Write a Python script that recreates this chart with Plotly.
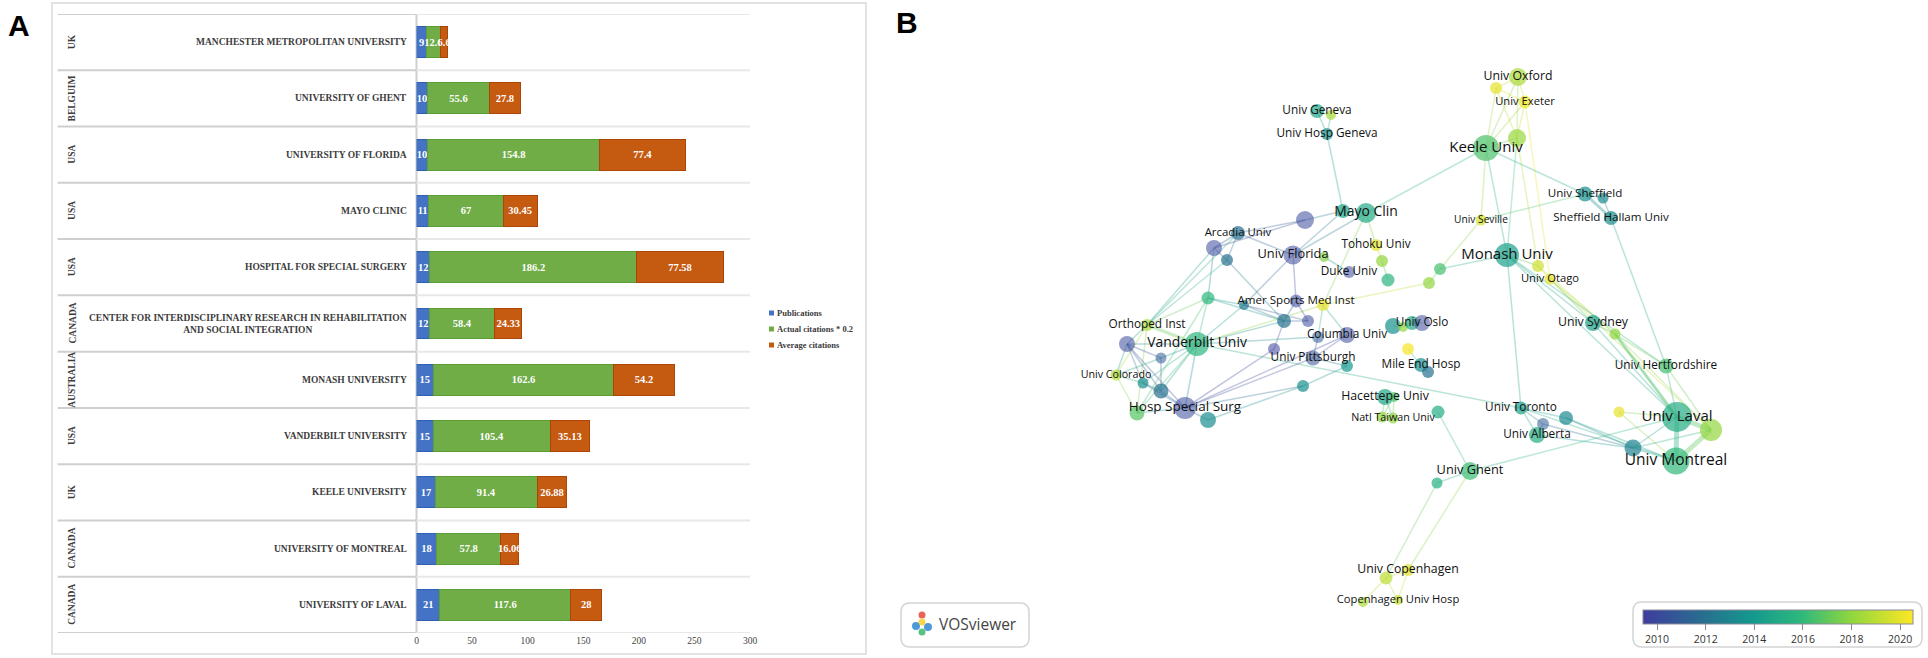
import plotly.graph_objects as go
from plotly.colors import sample_colorscale

W = 1928
H = 658

# ---- panel A data ----
universities = ['MANCHESTER METROPOLITAN UNIVERSITY', 'UNIVERSITY OF GHENT', 'UNIVERSITY OF FLORIDA',
                'MAYO CLINIC', 'HOSPITAL FOR SPECIAL SURGERY',
                'CENTER FOR INTERDISCIPLINARY RESEARCH IN REHABILITATION<br>AND SOCIAL INTEGRATION',
                'MONASH UNIVERSITY', 'VANDERBILT UNIVERSITY', 'KEELE UNIVERSITY',
                'UNIVERSITY OF MONTREAL', 'UNIVERSITY OF LAVAL']
countries = ['UK', 'BELGUIM', 'USA', 'USA', 'USA', 'CANADA', 'AUSTRALIA', 'USA', 'UK', 'CANADA', 'CANADA']
publications = [9, 10, 10, 11, 12, 12, 15, 15, 17, 18, 21]
actual_citations = [12.6, 55.6, 154.8, 67, 186.2, 58.4, 162.6, 105.4, 91.4, 57.8, 117.6]
average_citations = [6.6, 27.8, 77.4, 30.45, 77.58, 24.33, 54.2, 35.13, 26.88, 16.06, 28]
bar_ticks = [0, 50, 100, 150, 200, 250, 300]

# ---- panel B data (map position, bubble diameter, average year) ----
node_id = ['oxford', 'ox2', 'exeter', 'ox3', 'keele', 'sheffield', 'sh2', 'hallam', 'seville', 'monash',
           'mo2', 'otago', 'g1', 'g2', 'sydney', 'sy2', 'hert', 'y1', 'laval', 'la2',
           'montreal', 'mo3', 'toronto', 'to2', 'to3', 'alberta', 'ghent', 'gh2', 'to4', 'copen',
           'co2', 'cohosp', 'co3', 'geneva', 'ge2', 'hgeneva', 'mayo', 'ma2', 'p1', 'arcadia',
           'a2', 'a3', 'florida', 'fl2', 'tohoku', 'th2', 'duke', 'th3', 'c1', 'as1',
           'amer', 'as3', 'b1', 'b2', 'b3', 'columbia', 'b4', 'pitt', 'b5', 'b6',
           'os1', 'os2', 'os3', 'oslo', 'y2', 'mile', 'mi2', 'hacet', 'ha2', 'ha3',
           'taiwan', 'ortho', 'v1', 'vand', 'v2', 'colorado', 'v3', 'v4', 'hss', 'v5', 'v6']
node_label = ['Univ Oxford', '', 'Univ Exeter', '', 'Keele Univ', 'Univ Sheffield', '', 'Sheffield Hallam Univ', 'Univ Seville', 'Monash Univ',
              '', 'Univ Otago', '', '', 'Univ Sydney', '', 'Univ Hertfordshire', '', 'Univ Laval', '',
              'Univ Montreal', '', 'Univ Toronto', '', '', 'Univ Alberta', 'Univ Ghent', '', '', 'Univ Copenhagen',
              '', 'Copenhagen Univ Hosp', '', 'Univ Geneva', '', 'Univ Hosp Geneva', 'Mayo Clin', '', '', 'Arcadia Univ',
              '', '', 'Univ Florida', '', 'Tohoku Univ', '', 'Duke Univ', '', '', '',
              'Amer Sports Med Inst', '', '', '', '', 'Columbia Univ', '', 'Univ Pittsburgh', '', '',
              '', '', '', 'Univ Oslo', '', 'Mile End Hosp', '', 'Hacettepe Univ', '', '',
              'Natl Taiwan Univ', 'Orthoped Inst', '', 'Vanderbilt Univ', '', 'Univ Colorado', '', '', 'Hosp Special Surg', '', '']
label_size = [12.3, 0, 11.2, 0, 15, 11.6, 0, 11.6, 10.2, 15,
              0, 11.2, 0, 0, 12.3, 0, 11.8, 0, 15, 0,
              15.5, 0, 11.8, 0, 0, 11.8, 12.8, 0, 0, 12.3,
              0, 11.2, 0, 11.8, 0, 11.8, 13.9, 0, 0, 11.4,
              0, 0, 12.8, 0, 11.8, 0, 11.8, 0, 0, 0,
              11.6, 0, 0, 0, 0, 11.8, 0, 11.8, 0, 0,
              0, 0, 0, 11.8, 0, 11.8, 0, 12.3, 0, 0,
              10.7, 11.8, 0, 13.9, 0, 10.7, 0, 0, 13.5, 0, 0]
node_x = [1518, 1496, 1525, 1517, 1486, 1585, 1603, 1611, 1481, 1507,
          1538, 1550, 1440, 1429, 1593, 1615, 1666, 1619, 1677, 1711,
          1676, 1633, 1521, 1566, 1543, 1537, 1470, 1437, 1438, 1408,
          1386, 1398, 1363, 1317, 1331, 1327, 1366, 1343, 1305, 1238,
          1214, 1227, 1293, 1324, 1376, 1382, 1349, 1388, 1208, 1244,
          1296, 1323, 1284, 1308, 1318, 1347, 1274, 1313, 1347, 1303,
          1393, 1403, 1412, 1422, 1408, 1421, 1428, 1385, 1394, 1382,
          1393, 1147, 1127, 1197, 1161, 1116, 1143, 1161, 1185, 1137, 1208]
node_y = [77, 88, 102, 138, 148, 194, 198, 218, 220, 255,
          266, 279, 269, 283, 323, 334, 366, 412, 417, 430,
          461, 448, 408, 418, 424, 435, 471, 483, 412, 570,
          578, 600, 602, 111, 115, 134, 213, 211, 220, 233,
          248, 260, 255, 257, 245, 261, 272, 280, 298, 305,
          301, 305, 321, 321, 337, 335, 349, 358, 366, 386,
          326, 327, 323, 323, 349, 365, 372, 397, 397, 417,
          418, 325, 344, 344, 358, 375, 383, 391, 408, 413, 420]
node_size = [18, 12, 13, 18, 26, 15, 11, 14, 11, 24,
             12, 11, 12, 12, 16, 11, 15, 11, 30, 22,
             27, 17, 13, 14, 12, 16, 18, 11, 13, 12,
             13, 10, 10, 14, 10, 12, 20, 14, 18, 14,
             16, 12, 19, 10, 12, 12, 12, 13, 13, 10,
             13, 12, 14, 12, 12, 16, 12, 15, 12, 12,
             16, 10, 14, 16, 12, 14, 12, 16, 10, 11,
             11, 12, 16, 24, 11, 11, 11, 15, 22, 15, 16]
node_year = [18.6, 20, 20.2, 18.2, 16.6, 13.6, 13.2, 13.4, 19.6, 14.4,
             19.4, 20, 16.4, 18, 14.4, 18, 16.4, 20, 15.2, 18,
             16, 12.8, 14.4, 13.2, 11, 15.2, 16.2, 15.4, 15.2, 19.8,
             19, 19.2, 18.6, 14.8, 18.6, 13.4, 15, 14.6, 10, 12,
             10, 12, 10, 17.8, 20, 18, 10, 15.6, 15.8, 12.4,
             10, 20, 12, 10, 11, 10, 9.6, 10.4, 14, 13.6,
             13.6, 18, 15, 10, 20.4, 13.4, 12, 14.8, 16.6, 18,
             18, 18.6, 10, 15.8, 11, 18.8, 13.4, 12, 10, 16.8, 13.4]
node_year = [2000 + y for y in node_year]

edges = [('oxford', 'ox2'), ('oxford', 'exeter'), ('ox2', 'exeter'), ('oxford', 'keele'), ('oxford', 'ox3'),
         ('ox2', 'keele'), ('exeter', 'keele'), ('ox2', 'ox3'), ('exeter', 'ox3'), ('keele', 'ox3'),
         ('exeter', 'otago'), ('ox3', 'monash'), ('ox3', 'mo2'), ('keele', 'monash'), ('keele', 'seville'),
         ('keele', 'mayo'), ('keele', 'sheffield'), ('seville', 'sheffield'), ('seville', 'g1'), ('g1', 'monash'),
         ('g2', 'g1'), ('monash', 'mo2'), ('mo2', 'otago'), ('monash', 'sydney'), ('otago', 'sydney'),
         ('otago', 'sy2'), ('mo2', 'sy2'), ('sheffield', 'sh2'), ('sh2', 'hallam'), ('hallam', 'hert'),
         ('monash', 'toronto'), ('monash', 'hert'), ('monash', 'laval'), ('sydney', 'laval'), ('sydney', 'sy2'),
         ('sy2', 'hert'), ('sy2', 'laval'), ('sy2', 'la2'), ('otago', 'la2'), ('hert', 'laval'),
         ('hert', 'la2'), ('y1', 'laval'), ('y1', 'montreal'), ('mo3', 'laval'), ('mo3', 'la2'),
         ('mo3', 'montreal'), ('to2', 'mo3'), ('to2', 'montreal'), ('to3', 'mo3'), ('toronto', 'to2'),
         ('toronto', 'to3'), ('toronto', 'alberta'), ('to3', 'alberta'), ('alberta', 'mo3'), ('toronto', 'montreal'),
         ('ghent', 'laval'), ('ghent', 'to4'), ('ghent', 'gh2'), ('ghent', 'copen'), ('gh2', 'co2'),
         ('copen', 'co2'), ('copen', 'cohosp'), ('co2', 'cohosp'), ('co2', 'co3'), ('vand', 'toronto'),
         ('hacet', 'ha2'), ('hacet', 'ha3'), ('hacet', 'taiwan'), ('ha2', 'ha3'), ('ha2', 'taiwan'),
         ('y2', 'mile'), ('mile', 'mi2'), ('os1', 'os2'), ('os2', 'os3'), ('os3', 'oslo'),
         ('geneva', 'ge2'), ('geneva', 'hgeneva'), ('ge2', 'hgeneva'), ('hgeneva', 'ma2'), ('mayo', 'ma2'),
         ('ma2', 'p1'), ('p1', 'arcadia'), ('p1', 'a2'), ('mayo', 'florida'), ('ma2', 'florida'),
         ('mayo', 'tohoku'), ('mayo', 'as3'), ('tohoku', 'th2'), ('th2', 'th3'), ('fl2', 'duke'),
         ('florida', 'as1'), ('florida', 'amer'), ('arcadia', 'a2'), ('arcadia', 'a3'), ('a2', 'a3'),
         ('arcadia', 'florida'), ('a3', 'b1'), ('a2', 'c1'), ('a2', 'ortho'), ('arcadia', 'ortho'),
         ('a3', 'ortho'), ('c1', 'as1'), ('c1', 'ortho'), ('c1', 'vand'), ('c1', 'b1'),
         ('as1', 'b1'), ('as1', 'b2'), ('amer', 'b1'), ('b1', 'b2'), ('b1', 'b4'),
         ('b4', 'hss'), ('as3', 'b3'), ('as3', 'columbia'), ('vand', 'as3'), ('as3', 'g2'),
         ('b3', 'pitt'), ('columbia', 'pitt'), ('columbia', 'hss'), ('pitt', 'b5'), ('b5', 'b6'),
         ('b6', 'hss'), ('v6', 'b6'), ('as1', 'vand'), ('b1', 'vand'), ('amer', 'b2'),
         ('ortho', 'v1'), ('ortho', 'colorado'), ('ortho', 'v5'), ('v1', 'vand'),
         ('v1', 'v2'), ('v1', 'colorado'), ('v1', 'hss'), ('v1', 'v4'), ('v1', 'v3'),
         ('colorado', 'v2'), ('colorado', 'v5'), ('colorado', 'v3'), ('v2', 'vand'), ('v2', 'v4'),
         ('v3', 'v4'), ('v3', 'vand'), ('v4', 'hss'), ('v4', 'vand'), ('vand', 'hss'),
         ('vand', 'v5'), ('v5', 'hss'), ('hss', 'v6'), ('hss', 'v3'), ('c1', 'v5'),
         ('vand', 'b3'), ('hss', 'pitt')]
medium_edges = [('sheffield', 'hallam'), ('ortho', 'vand'), ('sy2', 'laval')]
heavy_edges = [('laval', 'montreal'), ('laval', 'la2'), ('montreal', 'la2')]

year_ticks = [2010, 2012, 2014, 2016, 2018, 2020]
year_min = 2009.42
year_max = 2020.53
year_colors = [[0, '#3f3c9e'], [0.23, '#27708f'], [0.41, '#149a8e'], [0.59, '#2fb97c'], [0.77, '#90d63f'], [1, '#fde725']]


def px(x):
    return x / W


def py(y):
    return 1 - y / H


def year_color(year):
    return sample_colorscale(year_colors, (year - year_min) / (year_max - year_min))[0]


fig = go.Figure()

# ---- panel A bars ----
series = [('Publications', publications, '#4472c4', '#2f5fb3'),
          ('Actual citations * 0.2', actual_citations, '#70ad47', '#5b9e35'),
          ('Average citations', average_citations, '#c55a11', '#ad4508')]
for name, values, color, edge in series:
    fig.add_trace(go.Bar(
        y=universities, x=values, name=name, orientation='h',
        marker=dict(color=color, line=dict(color=edge, width=1)),
        text=[str(v) for v in values], textposition='inside', insidetextanchor='middle',
        textangle=0, constraintext='none', cliponaxis=False,
        textfont=dict(family='Liberation Serif', size=10.5, color='white', weight='bold'),
        showlegend=False, hoverinfo='x+y'))

# ---- panel B links and nodes ----
pos = {n: i for i, n in enumerate(node_id)}
for pairs, width, alpha in [(edges, 1.5, 0.3), (medium_edges, 3, 0.34), (heavy_edges, 5, 0.36)]:
    for a, b in pairs:
        i, j = pos[a], pos[b]
        fig.add_trace(go.Scatter(
            x=[node_x[i], node_x[j]], y=[node_y[i], node_y[j]], mode='lines', xaxis='x2', yaxis='y2',
            line=dict(color=year_color((node_year[i] + node_year[j]) / 2), width=width),
            opacity=alpha, showlegend=False, hoverinfo='skip'))

# the older, bluer nodes look paler in the reference
node_alpha = [0.55 if y < 2011.5 else 0.7 for y in node_year]

fig.add_trace(go.Scatter(
    x=node_x, y=node_y, mode='markers+text', xaxis='x2', yaxis='y2', text=node_label,
    textposition='middle center',
    textfont=dict(family='Open Sans', size=[s if s else 10 for s in label_size], color='#111111'),
    marker=dict(size=node_size, color=node_year, colorscale=year_colors, cmin=year_min, cmax=year_max,
                opacity=node_alpha, line=dict(width=0),
                colorbar=dict(orientation='h', x=px(1778), xanchor='center', y=py(610), yanchor='top',
                              len=270, lenmode='pixels', thickness=14, thicknessmode='pixels',
                              tickvals=year_ticks, ticks='outside', ticklen=6, tickcolor='#888888',
                              tickfont=dict(family='Open Sans', size=10.5, color='#333333'),
                              outlinecolor='#8a8a9a', outlinewidth=1, xpad=0, ypad=0)),
    showlegend=False, hovertext=node_id, hoverinfo='text'))

# frame, row lines and table labels of panel A
shapes = [dict(type='rect', xref='paper', yref='paper', x0=px(52), x1=px(866), y0=py(654), y1=py(3),
               line=dict(color='#e2e2e2', width=2), layer='below'),
          dict(type='line', xref='paper', yref='paper', x0=px(416.5), x1=px(416.5), y0=py(633), y1=py(14),
               line=dict(color='#cfcfcf', width=2), layer='below')]
for k in range(len(universities) + 1):
    row_y = k - 0.5
    shapes.append(dict(type='line', xref='paper', yref='y', x0=px(57.6), x1=px(416.5), y0=row_y, y1=row_y,
                       line=dict(color='#cfcfcf', width=2), layer='below'))
    shapes.append(dict(type='line', xref='paper', yref='y', x0=px(416.5), x1=px(750), y0=row_y, y1=row_y,
                       line=dict(color='#e8e8e8', width=2), layer='below'))

serif = dict(family='Liberation Serif', size=9.5, color='#3c3c3c', weight='bold')
annotations = []
for uni, country in zip(universities, countries):
    annotations.append(dict(xref='paper', yref='y', x=px(409), y=uni, text=uni, xanchor='right', yanchor='middle',
                            align='center', showarrow=False, font=serif))
    annotations.append(dict(xref='paper', yref='y', x=px(72), y=uni, text=country, textangle=-90, xanchor='center',
                            yanchor='middle', showarrow=False, font=serif))

# legend of panel A, swatch next to the text as in the spreadsheet chart
for k, (name, values, color, edge) in enumerate(series):
    leg_y = 313 + k * 16
    shapes.append(dict(type='rect', xref='paper', yref='paper', x0=px(769), x1=px(774), y0=py(leg_y + 2.5),
                       y1=py(leg_y - 2.5), fillcolor=color, line=dict(width=0)))
    annotations.append(dict(xref='paper', yref='paper', x=px(775), y=py(leg_y), text=name, xanchor='left',
                            yanchor='middle', showarrow=False,
                            font=dict(family='Liberation Serif', size=8.5, color='#3c3c3c', weight='bold')))

# panel letters
for letter, lx, ly in [('A', 19, 25), ('B', 907, 23)]:
    annotations.append(dict(xref='paper', yref='paper', x=px(lx), y=py(ly), text=letter, xanchor='center',
                            yanchor='middle', showarrow=False,
                            font=dict(family='Liberation Sans', size=30, color='black', weight='bold')))


def round_box(x0, y0, x1, y1, r):
    return (f'M{x0 + r},{y0} L{x1 - r},{y0} Q{x1},{y0} {x1},{y0 + r} L{x1},{y1 - r} Q{x1},{y1} {x1 - r},{y1} '
            f'L{x0 + r},{y1} Q{x0},{y1} {x0},{y1 - r} L{x0},{y0 + r} Q{x0},{y0} {x0 + r},{y0} Z')


# VOSviewer badge and the box round the colour bar
shapes.append(dict(type='path', xref='x2', yref='y2', path=round_box(901, 603, 1029, 647, 9),
                   line=dict(color='#d4d4d4', width=1.5), fillcolor='white', layer='below'))
shapes.append(dict(type='path', xref='x2', yref='y2', path=round_box(1633, 602, 1922, 647, 9),
                   line=dict(color='#d4d4d4', width=1.5), fillcolor='white', layer='below'))
for cx, cy, cr, col in [(922, 615, 3.5, '#e8483a'), (916, 626, 4, '#2f86d6'), (928, 627, 4, '#2f86d6'),
                        (922, 622, 3.5, '#f4d12f'), (922, 632, 3.5, '#3db86b')]:
    shapes.append(dict(type='circle', xref='x2', yref='y2', x0=cx - cr, x1=cx + cr, y0=cy - cr, y1=cy + cr,
                       fillcolor=col, opacity=0.85, line=dict(width=0)))
annotations.append(dict(xref='x2', yref='y2', x=978, y=624, text='VOSviewer', xanchor='center', yanchor='middle',
                        showarrow=False, font=dict(family='Open Sans', size=15.5, color='#444444')))

fig.update_layout(
    width=W, height=H, margin=dict(l=0, r=0, t=0, b=0, autoexpand=False),
    paper_bgcolor='white', plot_bgcolor='white', barmode='stack', bargap=0.45,
    showlegend=False, shapes=shapes, annotations=annotations,
    xaxis=dict(domain=[px(416.5), px(750)], range=[0, 300], tickvals=bar_ticks, ticks='', showgrid=False,
               zeroline=False, showline=False, anchor='y',
               tickfont=dict(family='Liberation Serif', size=9.5, color='#444444')),
    yaxis=dict(domain=[py(633), py(14)], type='category', categoryorder='array', categoryarray=universities,
               range=[len(universities) - 0.5, -0.5], showticklabels=False, ticks='', showgrid=False,
               zeroline=False, showline=False, anchor='x'),
    xaxis2=dict(domain=[px(880), 1], range=[880, W], visible=False, anchor='y2'),
    yaxis2=dict(domain=[0, 1], range=[H, 0], visible=False, anchor='x2'),
)

fig.write_html('out.html', config=dict(displayModeBar=False),
               post_script="document.body.style.margin='0';")
